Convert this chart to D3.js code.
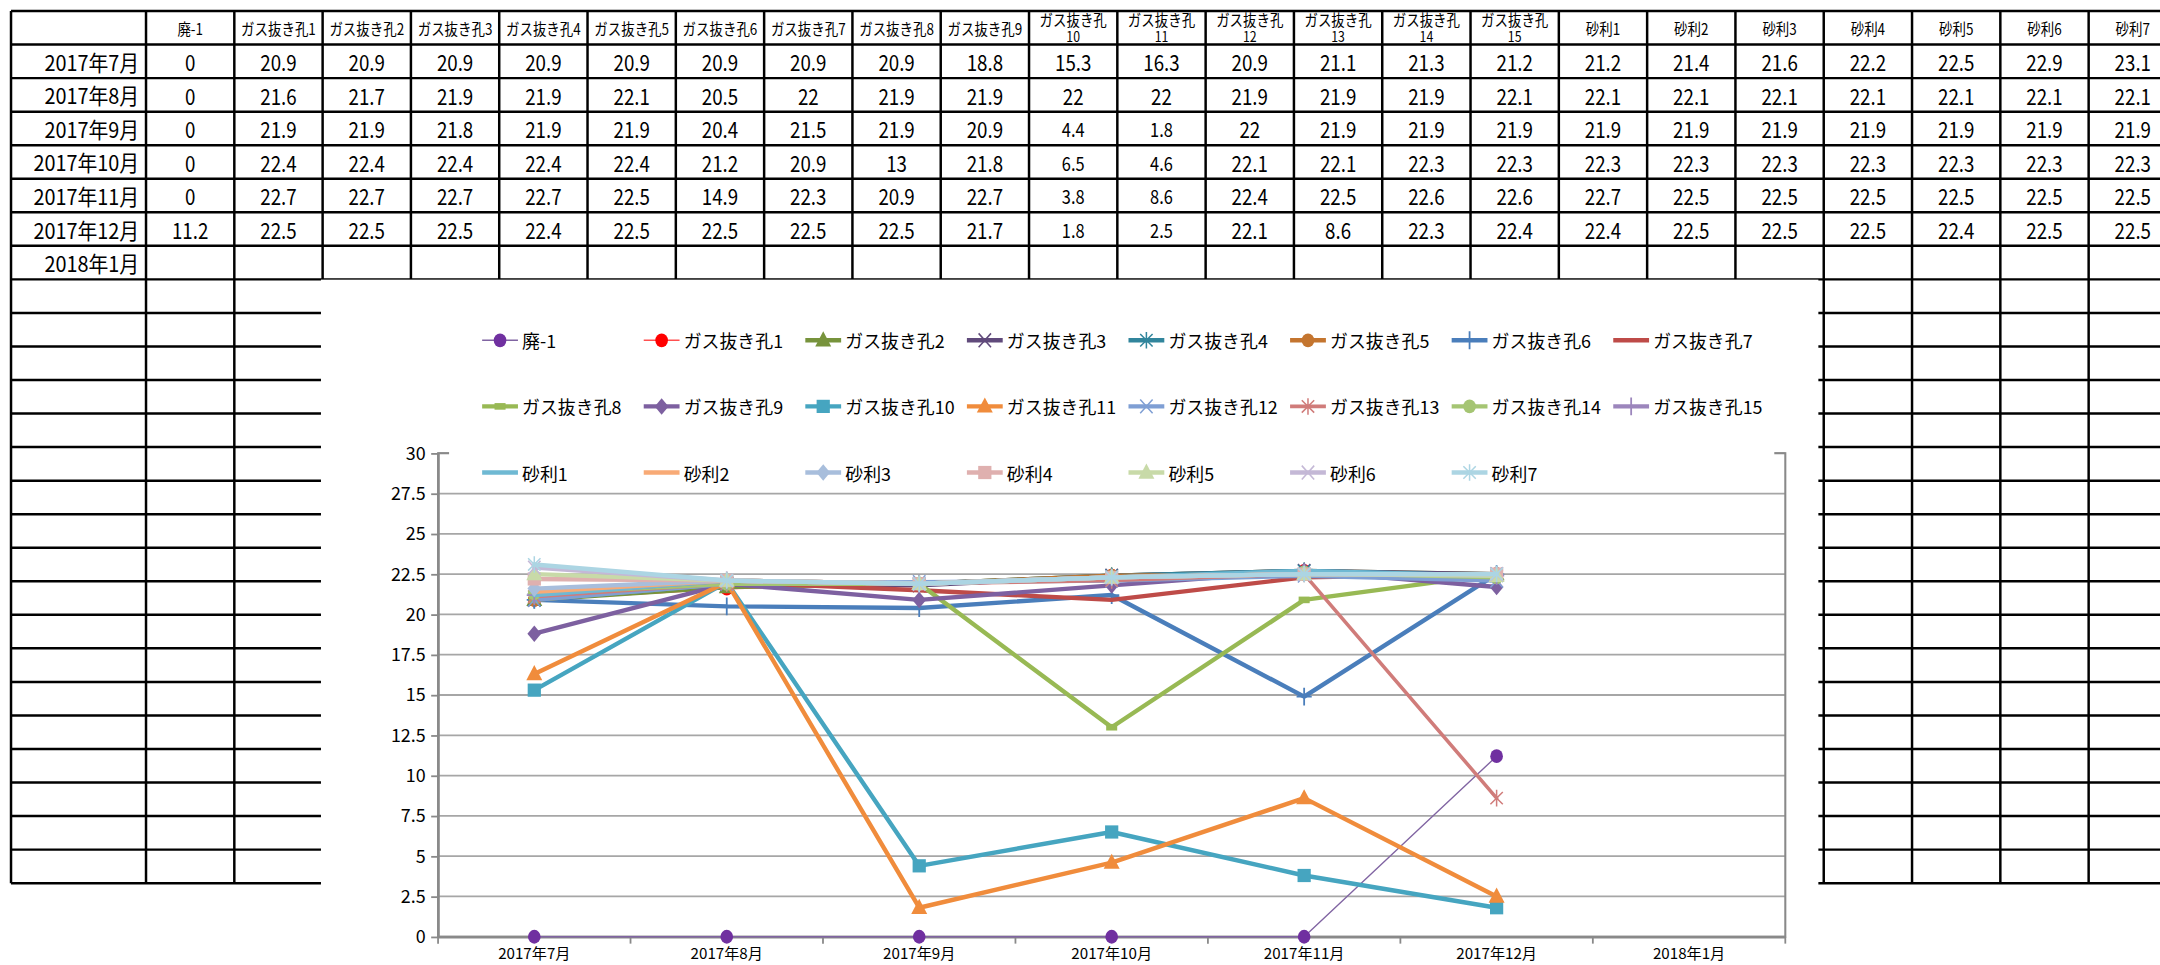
<!DOCTYPE html>
<html><head><meta charset="utf-8">
<script src="https://cdn.jsdelivr.net/npm/d3@7"></script>
<style>html,body{margin:0;padding:0;background:#fff;overflow:hidden}</style>
</head><body>
<svg id="c" width="2160" height="965" viewBox="0 0 1568 700.5"></svg>
<script>
// ---------- data ----------
const months = ["2017年7月","2017年8月","2017年9月","2017年10月","2017年11月","2017年12月","2018年1月"];
const seriesNames = ["廃-1",
  "ガス抜き孔1","ガス抜き孔2","ガス抜き孔3","ガス抜き孔4","ガス抜き孔5","ガス抜き孔6","ガス抜き孔7","ガス抜き孔8",
  "ガス抜き孔9","ガス抜き孔10","ガス抜き孔11","ガス抜き孔12","ガス抜き孔13","ガス抜き孔14","ガス抜き孔15",
  "砂利1","砂利2","砂利3","砂利4","砂利5","砂利6","砂利7"];
const hai1  = [0, 0, 0, 0, 0, 11.2];
const gas1  = [20.9, 21.6, 21.9, 22.4, 22.7, 22.5];
const gas2  = [20.9, 21.7, 21.9, 22.4, 22.7, 22.5];
const gas3  = [20.9, 21.9, 21.8, 22.4, 22.7, 22.5];
const gas4  = [20.9, 21.9, 21.9, 22.4, 22.7, 22.4];
const gas5  = [20.9, 22.1, 21.9, 22.4, 22.5, 22.5];
const gas6  = [20.9, 20.5, 20.4, 21.2, 14.9, 22.5];
const gas7  = [20.9, 22, 21.5, 20.9, 22.3, 22.5];
const gas8  = [20.9, 21.9, 21.9, 13, 20.9, 22.5];
const gas9  = [18.8, 21.9, 20.9, 21.8, 22.7, 21.7];
const gas10 = [15.3, 22, 4.4, 6.5, 3.8, 1.8];
const gas11 = [16.3, 22, 1.8, 4.6, 8.6, 2.5];
const gas12 = [20.9, 21.9, 22, 22.1, 22.4, 22.1];
const gas13 = [21.1, 21.9, 21.9, 22.1, 22.5, 8.6];
const gas14 = [21.3, 21.9, 21.9, 22.3, 22.6, 22.3];
const gas15 = [21.2, 22.1, 21.9, 22.3, 22.6, 22.4];
const jari1 = [21.2, 22.1, 21.9, 22.3, 22.7, 22.4];
const jari2 = [21.4, 22.1, 21.9, 22.3, 22.5, 22.5];
const jari3 = [21.6, 22.1, 21.9, 22.3, 22.5, 22.5];
const jari4 = [22.2, 22.1, 21.9, 22.3, 22.5, 22.5];
const jari5 = [22.5, 22.1, 21.9, 22.3, 22.5, 22.4];
const jari6 = [22.9, 22.1, 21.9, 22.3, 22.5, 22.5];
const jari7 = [23.1, 22.1, 21.9, 22.3, 22.5, 22.5];
const seriesValues = [hai1, gas1, gas2, gas3, gas4, gas5, gas6, gas7, gas8, gas9, gas10, gas11, gas12, gas13, gas14, gas15,
  jari1, jari2, jari3, jari4, jari5, jari6, jari7];
const yTickValues = [0, 2.5, 5, 7.5, 10, 12.5, 15, 17.5, 20, 22.5, 25, 27.5, 30];

// ---------- styles ----------
const lineColors = ["#8064A2","#FF5050","#77933C","#604A7B","#31859C","#C4752F","#4A7EBB","#BE4B48","#98B954",
  "#7D60A0","#46A5C0","#F08C3C","#7F9FD4","#D07C7A","#A5C573","#9C86BC",
  "#6FB9D3","#F8AA76","#A8BEDC","#DFB0AF","#C8DAA8","#C4B8D6","#ACD5E3"];
const markerColors = ["#7030A0","#FF0000"].concat(lineColors.slice(2));
const markerTypes = ["circle","circle","triangle","x","star","circle","plus","none","dash",
  "diamond","square","triangle","x","star","circle","plus",
  "none","none","diamond","square","triangle","x","star"];
const lineWidths = [1,1.2,3.2,3.2,3.2,3.2,3.2,3.2,3.2,3.2,3.2,3.2,3.2,2.6,3.2,3.2,3.2,3.2,3.2,3.2,3.2,3.2,3.2];

const FONT = "'Noto Sans CJK JP','Noto Sans',sans-serif";
const svg = d3.select("#c").style("font-family", FONT);

function stext(g, x, y, str, size, anchor, sx) {
  return g.append("text")
    .attr("transform", `translate(${x},${y}) scale(${sx},1)`)
    .attr("text-anchor", anchor)
    .attr("dominant-baseline", "central")
    .attr("font-size", size)
    .attr("fill", "#000")
    .text(str);
}

// ---------- spreadsheet table ----------
const T = svg.append("g");
const tx0 = 8, firstW = 98, colW = 64.1, ty0 = 8, rowH = 24.35, nRows = 26;
const colEdges = [tx0, tx0 + firstW];
seriesNames.forEach((_, i) => colEdges.push(tx0 + firstW + colW * (i + 1)));
const tableBottom = ty0 + rowH * nRows;
for (let r = 0; r <= nRows; r++) {
  T.append("line").attr("x1", tx0).attr("x2", 1600).attr("y1", ty0 + rowH * r).attr("y2", ty0 + rowH * r)
    .attr("stroke", "#000").attr("stroke-width", 1.8);
}
colEdges.forEach(cx => {
  T.append("line").attr("x1", cx).attr("x2", cx).attr("y1", ty0).attr("y2", tableBottom)
    .attr("stroke", "#000").attr("stroke-width", 1.8);
});
// header
seriesNames.forEach((name, i) => {
  const cx = tx0 + firstW + colW * i + colW / 2;
  const cy = ty0 + rowH / 2;
  const m = name.match(/^(ガス抜き孔)(\d\d)$/);
  if (m) {
    const t = T.append("text")
      .attr("transform", `translate(${cx},${cy}) scale(0.85,1)`)
      .attr("text-anchor", "middle").attr("font-size", 11.5).attr("fill", "#000");
    t.append("tspan").attr("x", 0).attr("y", -1.5).text(m[1]);
    t.append("tspan").attr("x", 0).attr("y", 10).attr("font-size", 10.5).text(m[2]);
  } else {
    stext(T, cx, cy, name, 11.5, "middle", 0.85);
  }
});
// rows
months.forEach((mo, r) => {
  const cy = ty0 + rowH * (r + 1) + rowH / 2;
  stext(T, tx0 + firstW - 5, cy, mo, 16, "end", 0.9);
  seriesValues.forEach((vals, i) => {
    if (vals[r] === undefined) return;
    const cx = tx0 + firstW + colW * i + colW / 2;
    const small = (i === 10 || i === 11) && vals[r] < 10;
    stext(T, cx, cy, String(vals[r]), small ? 14 : 16, "middle", 0.85);
  });
});

// ---------- chart ----------
const C = svg.append("g");
C.append("rect").attr("x", 233).attr("y", 203).attr("width", 1087).attr("height", 500).attr("fill", "#fff");

const X0 = 318, X1 = 1296, Y0 = 680, Y1 = 329;
const x = d3.scaleBand().domain(months).range([X0, X1]);
const xc = m => x(m) + x.bandwidth() / 2;
const y = d3.scaleLinear().domain([0, 30]).range([Y0, Y1]);

// gridlines
C.append("g").selectAll("line").data(yTickValues).join("line")
  .attr("x1", X0).attr("x2", X1).attr("y1", d => y(d)).attr("y2", d => y(d))
  .attr("stroke", "#A6A6A6").attr("stroke-width", 1.3);
// plot border
C.append("rect").attr("x", X0).attr("y", Y1).attr("width", X1 - X0).attr("height", Y0 - Y1)
  .attr("fill", "none").attr("stroke", "#898989").attr("stroke-width", 1.5);

// y axis
const ya = C.append("g").attr("transform", `translate(${X0},0)`)
  .call(d3.axisLeft(y).tickValues(yTickValues).tickSize(5).tickSizeOuter(0).tickPadding(4).tickFormat(d => String(d)));
ya.select(".domain").attr("stroke", "#898989").attr("stroke-width", 1.5);
ya.selectAll(".tick line").attr("stroke", "#898989").attr("stroke-width", 1.3);
ya.selectAll(".tick text").attr("font-size", 13).attr("font-family", FONT).attr("fill", "#000");

// x axis
const xa = C.append("g").attr("transform", `translate(0,${Y0})`)
  .call(d3.axisBottom(x).tickSize(0).tickSizeOuter(0).tickPadding(8));
xa.select(".domain").attr("stroke", "#898989").attr("stroke-width", 1.5);
xa.selectAll(".tick text").attr("font-size", 11).attr("font-family", FONT).attr("fill", "#000");
const bounds = months.map(m => x(m)).concat([X1]);
C.append("g").selectAll("line").data(bounds).join("line")
  .attr("x1", d => d).attr("x2", d => d).attr("y1", Y0).attr("y2", Y0 + 5)
  .attr("stroke", "#898989").attr("stroke-width", 1.3);

function marker(sel, type, color, cx, cy) {
  const s = sel.append("g").attr("transform", `translate(${cx},${cy})`);
  switch (type) {
    case "circle": s.append("ellipse").attr("rx", 4.6).attr("ry", 5).attr("fill", color); break;
    case "square": s.append("rect").attr("x", -4.8).attr("y", -4.8).attr("width", 9.6).attr("height", 9.6).attr("fill", color); break;
    case "triangle": s.append("path").attr("d", "M0,-6.5L5.8,4.5L-5.8,4.5Z").attr("fill", color); break;
    case "diamond": s.append("path").attr("d", "M0,-6L5,0L0,6L-5,0Z").attr("fill", color); break;
    case "x": s.append("path").attr("d", "M-4.5,-5L4.5,5M-4.5,5L4.5,-5").attr("stroke", color).attr("stroke-width", 1.1).attr("fill", "none"); break;
    case "star": s.append("path").attr("d", "M-4.5,-4.5L4.5,4.5M-4.5,4.5L4.5,-4.5M0,-6V6").attr("stroke", color).attr("stroke-width", 1.1).attr("fill", "none"); break;
    case "plus": s.append("path").attr("d", "M-5.5,0H5.5M0,-6.5V6.5").attr("stroke", color).attr("stroke-width", 1.3).attr("fill", "none"); break;
    case "dash": s.append("rect").attr("x", -4).attr("y", -2.4).attr("width", 8).attr("height", 4.8).attr("fill", color); break;
  }
}

const line = d3.line().x((d, i) => xc(months[i])).y(d => y(d)).defined(d => d != null);
const S = C.append("g");
seriesValues.forEach((vals, i) => {
  const g = S.append("g");
  g.append("path").attr("d", line(vals)).attr("fill", "none")
    .attr("stroke", lineColors[i]).attr("stroke-width", lineWidths[i])
    .attr("stroke-linejoin", "round").attr("stroke-linecap", "round");
  vals.forEach((v, k) => { if (v != null) marker(g, markerTypes[i], markerColors[i], xc(months[k]), y(v)); });
});

// legend
const L = C.append("g");
L.append("rect").attr("x", 326).attr("y", 222).attr("width", 962).attr("height", 130).attr("fill", "#fff");
const legRows = [247, 295, 343];
seriesNames.forEach((name, i) => {
  const row = i < 8 ? 0 : (i < 16 ? 1 : 2);
  const col = i < 8 ? i : (i < 16 ? i - 8 : i - 16);
  const lx = 350 + 117.3 * col, ly = legRows[row];
  const g = L.append("g");
  g.append("line").attr("x1", lx).attr("x2", lx + 26).attr("y1", ly).attr("y2", ly)
    .attr("stroke", lineColors[i]).attr("stroke-width", lineWidths[i]);
  marker(g, markerTypes[i], markerColors[i], lx + 13, ly);
  g.append("text").attr("x", lx + 29).attr("y", ly).attr("dominant-baseline", "central")
    .attr("font-size", 13).attr("fill", "#000").text(name);
});
</script>
</body></html>
